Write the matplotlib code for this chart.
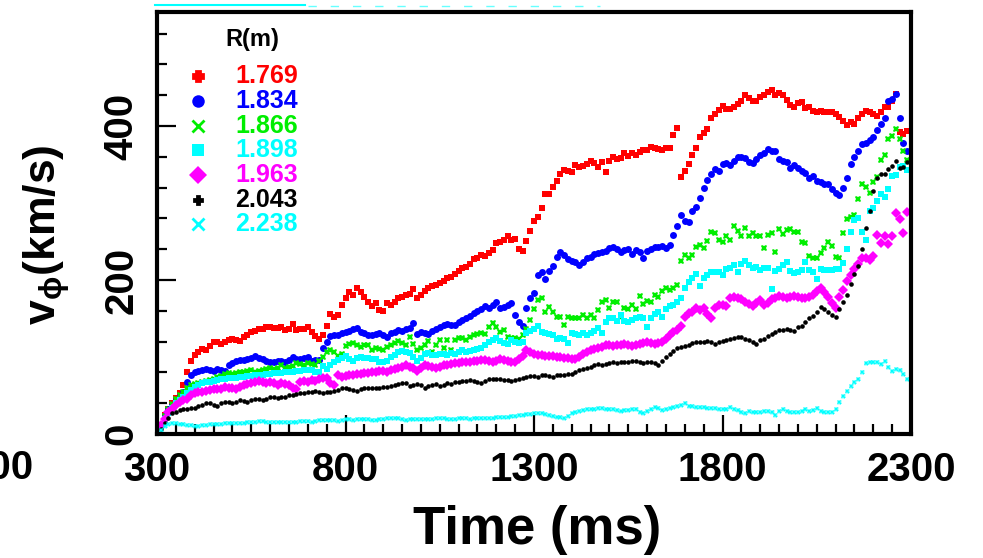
import numpy as np
import matplotlib
matplotlib.use('Agg')
from matplotlib import pyplot as plt
from matplotlib import font_manager
from matplotlib.lines import Line2D

# Sampling times (ms), one sample every 10 ms
time_ms = np.arange(300, 2300, 10)

# v_phi (km/s), one list per radius
v_1769 = [0, 12, 25, 33, 40, 47, 53, 64, 80, 95, 103, 106, 111, 109, 114, 120, 119, 117, 120, 122,
          123, 122, 121, 126, 128, 132, 134, 136, 137, 139, 139, 138, 138, 139, 135, 136, 143, 135, 136, 137,
          139, 133, 127, 123, 128, 140, 156, 152, 154, 168, 177, 184, 181, 189, 184, 178, 172, 166, 170, 161,
          160, 170, 167, 172, 176, 178, 181, 182, 188, 177, 181, 186, 190, 192, 194, 196, 199, 202, 204, 208,
          212, 215, 217, 221, 227, 229, 233, 231, 235, 239, 248, 249, 252, 257, 252, 253, 240, 238, 250, 263,
          277, 282, 294, 312, 312, 321, 329, 337, 343, 341, 340, 349, 347, 348, 351, 355, 352, 347, 353, 340,
          355, 360, 357, 358, 365, 361, 365, 362, 366, 369, 369, 373, 371, 370, 369, 371, 372, 388, 398, 334,
          341, 351, 362, 372, 386, 391, 396, 410, 415, 421, 426, 422, 422, 425, 429, 433, 440, 436, 432, 432,
          437, 440, 444, 447, 440, 443, 440, 434, 427, 425, 430, 431, 423, 425, 420, 418, 420, 418, 418, 418,
          415, 412, 407, 401, 405, 402, 410, 416, 420, 418, 415, 413, 418, 424, 425, 432, 441, 392, 390, 393]
v_1834 = [0, 12, 24, 32, 38, 44, 49, 55, 68, 77, 80, 82, 83, 84, 83, 82, 85, 83, 82, 89,
          92, 95, 96, 96, 98, 99, 101, 99, 97, 95, 94, 94, 95, 95, 93, 96, 100, 98, 98, 99,
          100, 95, 96, 96, 112, 120, 127, 128, 129, 131, 132, 134, 136, 138, 133, 131, 129, 128, 130, 131,
          128, 126, 131, 133, 135, 134, 136, 138, 144, 130, 132, 131, 130, 134, 137, 139, 141, 143, 141, 142,
          145, 148, 151, 153, 157, 160, 162, 166, 164, 167, 171, 164, 165, 168, 170, 155, 146, 140, 163, 176,
          183, 206, 210, 201, 212, 218, 230, 236, 232, 227, 225, 223, 220, 223, 228, 230, 234, 235, 236, 238,
          241, 243, 240, 236, 239, 240, 234, 239, 236, 228, 237, 240, 243, 243, 244, 241, 245, 258, 270, 285,
          277, 275, 289, 295, 306, 320, 330, 338, 344, 341, 350, 352, 349, 355, 360, 360, 359, 353, 352, 357,
          362, 365, 370, 367, 367, 357, 355, 353, 345, 349, 345, 342, 339, 333, 335, 328, 327, 325, 324, 318,
          313, 310, 320, 333, 350, 360, 368, 376, 378, 382, 386, 395, 402, 410, 433, 435, 441, 410, 378, 368]
v_1866 = [0, 12, 24, 32, 39, 45, 50, 55, 60, 63, 65, 66, 68, 69, 70, 72, 74, 75, 78, 79,
          78, 79, 80, 81, 82, 83, 81, 82, 83, 85, 86, 85, 86, 90, 86, 87, 88, 92, 91, 90,
          92, 91, 90, 95, 100, 106, 109, 106, 101, 104, 114, 117, 118, 116, 113, 116, 115, 109, 112, 110,
          109, 113, 116, 118, 121, 118, 116, 126, 117, 109, 112, 116, 121, 106, 116, 122, 112, 122, 109, 122,
          125, 125, 122, 126, 129, 130, 131, 130, 139, 144, 139, 132, 135, 126, 125, 125, 124, 128, 137, 148,
          162, 174, 177, 158, 165, 158, 152, 152, 142, 152, 151, 151, 151, 155, 151, 155, 151, 161, 171, 174,
          164, 171, 171, 152, 164, 162, 168, 162, 179, 169, 173, 171, 180, 178, 186, 189, 187, 190, 194, 225,
          232, 228, 232, 243, 245, 241, 250, 262, 261, 252, 249, 257, 252, 270, 264, 257, 267, 257, 261, 257,
          257, 242, 258, 261, 236, 266, 260, 265, 266, 262, 262, 249, 248, 231, 229, 228, 235, 241, 249, 244,
          230, 229, 261, 279, 282, 284, 305, 325, 321, 313, 327, 334, 356, 362, 383, 387, 396, 383, 368, 356]
v_1898 = [0, 10, 19, 27, 34, 40, 44, 48, 53, 57, 61, 64, 66, 67, 68, 69, 70, 71, 72, 73,
          73, 73, 74, 74, 75, 75, 76, 77, 77, 78, 78, 79, 79, 79, 80, 81, 81, 82, 82, 83,
          83, 83, 81, 81, 88, 84, 89, 93, 96, 99, 101, 97, 95, 99, 100, 99, 99, 98, 97, 94,
          93, 95, 100, 103, 106, 108, 106, 105, 100, 95, 99, 104, 105, 103, 103, 104, 104, 103, 105, 104,
          106, 109, 107, 108, 109, 110, 112, 115, 119, 122, 125, 121, 118, 117, 122, 120, 118, 119, 131, 134,
          137, 140, 133, 131, 130, 129, 123, 125, 124, 118, 131, 130, 129, 131, 129, 131, 134, 138, 131, 146,
          150, 151, 147, 154, 147, 145, 148, 151, 152, 150, 139, 150, 156, 158, 152, 162, 166, 168, 172, 177,
          190, 198, 203, 208, 192, 203, 206, 210, 210, 210, 206, 214, 216, 219, 210, 221, 225, 219, 216, 217,
          213, 215, 216, 188, 212, 214, 219, 223, 212, 209, 211, 213, 223, 213, 210, 201, 214, 213, 213, 213,
          214, 214, 222, 240, 262, 278, 281, 262, 252, 290, 294, 303, 312, 308, 318, 335, 336, 347, 348, 343]
v_1963 = [0, 12, 19, 28, 33, 38, 42, 44, 45, 50, 53, 55, 55, 56, 57, 59, 59, 58, 61, 60,
          60, 59, 61, 63, 65, 66, 68, 69, 67, 66, 68, 66, 64, 66, 65, 63, 60, 58, 68, 69,
          68, 70, 69, 71, 73, 73, 66, 64, 76, 74, 75, 76, 77, 78, 78, 79, 79, 80, 81, 82,
          82, 81, 83, 85, 86, 87, 89, 87, 86, 82, 86, 89, 88, 87, 86, 87, 89, 90, 91, 92,
          92, 93, 94, 94, 95, 95, 96, 96, 95, 94, 95, 97, 96, 95, 94, 94, 98, 101, 109, 107,
          104, 103, 102, 101, 101, 101, 100, 100, 99, 99, 97, 98, 100, 104, 107, 109, 111, 112, 113, 115,
          116, 114, 115, 116, 117, 116, 114, 116, 117, 118, 119, 118, 117, 118, 120, 124, 128, 132, 135, 140,
          152, 157, 158, 163, 161, 164, 156, 150, 164, 167, 168, 166, 176, 178, 177, 175, 172, 169, 166, 170,
          174, 168, 170, 175, 177, 179, 178, 177, 178, 179, 178, 177, 177, 178, 180, 186, 189, 184, 178, 170,
          164, 178, 187, 199, 206, 214, 221, 228, 229, 226, 231, 258, 248, 257, 247, 257, 287, 279, 261, 288]
v_2043 = [0, 6, 14, 21, 27, 29, 31, 32, 33, 34, 34, 36, 38, 40, 40, 38, 36, 40, 42, 41,
          40, 42, 44, 43, 42, 44, 46, 45, 44, 46, 48, 48, 47, 48, 48, 50, 51, 52, 53, 53,
          54, 55, 56, 55, 53, 54, 55, 56, 57, 60, 60, 58, 57, 56, 59, 60, 60, 60, 60, 60,
          61, 61, 62, 64, 65, 66, 66, 62, 63, 65, 63, 60, 62, 63, 65, 62, 64, 66, 65, 67,
          68, 69, 69, 70, 69, 67, 66, 69, 71, 71, 72, 71, 70, 70, 69, 70, 71, 73, 74, 75,
          75, 74, 76, 76, 75, 74, 77, 76, 77, 78, 78, 80, 83, 85, 86, 87, 89, 91, 90, 91,
          92, 94, 92, 94, 93, 94, 95, 95, 94, 92, 94, 93, 92, 90, 95, 100, 104, 108, 112, 113,
          114, 116, 118, 119, 119, 120, 121, 119, 117, 119, 121, 122, 123, 125, 126, 126, 124, 122, 120, 117,
          122, 124, 127, 130, 133, 135, 135, 136, 135, 134, 139, 140, 146, 151, 153, 158, 165, 162, 159, 155,
          152, 162, 172, 180, 195, 208, 218, 240, 268, 290, 315, 333, 337, 338, 344, 348, 355, 345, 347, 353]
v_2238 = [0, 5, 10, 13, 14, 14, 13, 13, 12, 12, 11, 10, 12, 12, 13, 13, 13, 13, 14, 14,
          14, 14, 14, 14, 15, 16, 16, 17, 17, 16, 16, 16, 16, 16, 16, 16, 16, 16, 17, 17,
          17, 16, 17, 18, 18, 18, 18, 18, 17, 18, 19, 19, 18, 19, 19, 19, 19, 18, 18, 19,
          20, 21, 21, 21, 21, 20, 18, 19, 19, 19, 20, 20, 19, 20, 21, 21, 21, 20, 19, 20,
          21, 21, 21, 20, 21, 21, 21, 21, 21, 21, 22, 22, 22, 22, 23, 24, 25, 25, 26, 26,
          27, 27, 27, 26, 25, 24, 22, 22, 21, 24, 27, 29, 30, 31, 32, 32, 33, 34, 34, 33,
          33, 32, 31, 30, 31, 31, 32, 32, 28, 27, 30, 33, 35, 34, 31, 33, 34, 35, 37, 38,
          40, 37, 36, 35, 35, 35, 34, 34, 34, 33, 32, 33, 35, 32, 31, 29, 27, 30, 29, 29,
          29, 30, 30, 29, 25, 30, 32, 30, 29, 29, 29, 30, 32, 30, 31, 34, 30, 29, 29, 29,
          32, 42, 49, 56, 62, 67, 71, 80, 92, 93, 93, 94, 91, 95, 87, 82, 84, 83, 78, 71]

radii = ['1.769', '1.834', '1.866', '1.898', '1.963', '2.043', '2.238']
series = [v_1769, v_1834, v_1866, v_1898, v_1963, v_2043, v_2238]
colors = ['#ff0000', '#0000ff', '#00ee00', '#00ffff', '#ff00ff', '#000000', '#00ffff']
# markers used for the points and for the legend (they differ in the original)
plot_markers = [('s', 3.8), ('o', 5.0), ('X', 4.6), ('s', 4.4), ('D', 4.6), ('o', 3.3), ('X', 3.6)]
legend_markers = [('P', 7), ('o', 9), ('x', 8), ('s', 8), ('D', 9), ('P', 6), ('x', 8)]

names = {f.name for f in font_manager.fontManager.ttflist}
narrow = 'Liberation Sans Narrow' if 'Liberation Sans Narrow' in names else 'Liberation Sans'
big = 31 if narrow != 'Liberation Sans' else 29

plt.rcParams['font.family'] = ['Liberation Sans', 'DejaVu Sans']
plt.rcParams['font.weight'] = 'bold'
plt.rcParams['mathtext.fontset'] = 'dejavusans'

fig = plt.figure(figsize=(9.83, 5.58), dpi=100)
ax = fig.add_axes([157 / 983, 1 - 434 / 558, 754 / 983, 422 / 558])

for vals, col, (mk, ms) in zip(series, colors, plot_markers):
    ax.plot(time_ms, vals, linestyle='none', marker=mk, markersize=ms, color=col,
            markeredgewidth=0, clip_on=True)

ax.set_xlim(300, 2300)
ax.set_ylim(0, 548)
ax.set_xticks([300, 800, 1300, 1800, 2300])
ax.set_xticks(np.arange(300, 2301, 50), minor=True)
ax.set_yticks([0, 200, 400])
ax.set_yticks(np.arange(0, 548, 40), minor=True)
ax.tick_params(which='both', direction='in', top=False, right=False, width=1.6, color='black')
ax.tick_params(which='major', length=14, pad=12)
ax.tick_params(which='minor', length=7.5)
for lab in ax.get_xticklabels() + ax.get_yticklabels():
    lab.set_fontfamily([narrow, 'Liberation Sans'])
    lab.set_fontsize(big)
    lab.set_fontweight('bold')
for lab in ax.get_yticklabels():
    lab.set_rotation(90)
    lab.set_verticalalignment('center')
for sp in ax.spines.values():
    sp.set_linewidth(3)

# legend drawn by hand, like the original
ax.text(0.127, 0.934, 'R(m)', transform=ax.transAxes, fontsize=17, fontweight='bold',
        ha='center', va='center', color='black')
for i, (lab, col, (mk, ms)) in enumerate(zip(radii, colors, legend_markers)):
    yy = 0.848 - i * 0.0585
    ew = 2.0 if mk in ('x', 'P') else 0
    ax.plot([0.0544], [yy], transform=ax.transAxes, marker=mk, markersize=ms, color=col,
            markeredgewidth=ew, linestyle='none', clip_on=False)
    ax.text(0.1034, yy, lab, transform=ax.transAxes, fontsize=18, fontweight='bold',
            ha='left', va='center', color=col)

fig.text(47 / 983, 1 - 235 / 558, r'v$_{\mathregular{\phi}}$(km/s)', fontsize=32, fontweight='bold',
         rotation=90, ha='center', va='center')
fig.text(537 / 983, 1 - 530 / 558, 'Time (ms)', fontsize=38 if big == 29 else 40, fontweight='bold',
         family=[narrow, 'Liberation Sans'], ha='center', va='center')
# cut-off tick label at the left edge of the original picture
fig.text(34 / 983, 1 - 468 / 558, '200', fontsize=big, fontweight='bold',
         family=[narrow, 'Liberation Sans'], ha='right', va='center')
# thin cyan streak above the frame
fig.add_artist(Line2D([155 / 983, 305 / 983], [1 - 5 / 558, 1 - 5 / 558], color='#00ffff', lw=1.5))
fig.add_artist(Line2D([308 / 983, 600 / 983], [1 - 6 / 558, 1 - 6 / 558], color='#00ffff', lw=1.0,
                      linestyle=(0, (6, 10)), alpha=0.6))

fig.savefig('out.png', dpi=100)
